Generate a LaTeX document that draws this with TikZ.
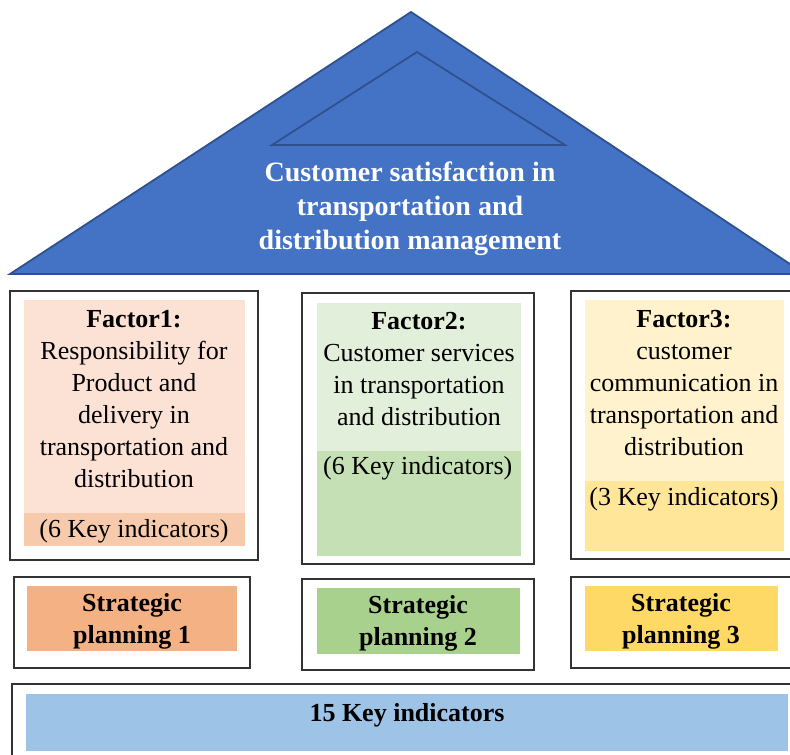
\documentclass[tikz,border=0pt]{standalone}
\usepackage{fontspec}
\setmainfont{Liberation Serif}
\definecolor{triFill}{HTML}{4472C4}
\definecolor{triLine}{HTML}{2F528F}
\definecolor{fOneL}{HTML}{FBE2D5}
\definecolor{fOneD}{HTML}{F7CAAC}
\definecolor{fTwoL}{HTML}{E2EFDA}
\definecolor{fTwoD}{HTML}{C5E0B4}
\definecolor{fThrL}{HTML}{FFF2CC}
\definecolor{fThrD}{HTML}{FFE699}
\definecolor{sOne}{HTML}{F4B183}
\definecolor{sTwo}{HTML}{A9D18E}
\definecolor{sThr}{HTML}{FFD966}
\definecolor{keyBlue}{HTML}{9DC3E6}
\begin{document}
\begin{tikzpicture}[x=1pt,y=-1pt,
  outerbox/.style={draw=black!80, line width=1.2pt, fill=white, anchor=north west, inner sep=0pt, outer sep=0pt},
  fillbox/.style={draw=none, anchor=north west, inner sep=0pt, outer sep=0pt},
  bodytext/.style={font=\fontsize{26}{32}\selectfont, align=center, inner sep=0pt},
  strattext/.style={font=\bfseries\fontsize{26}{32}\selectfont, align=center, inner sep=0pt},
  tritext/.style={font=\bfseries\fontsize{28}{34}\selectfont, text=white, align=center, inner sep=0pt}]
\useasboundingbox (0,0) rectangle (790,755);
\clip (0,0) rectangle (790,755);
% roof
\path[fill=triFill, draw=triLine, line width=1.8pt, line join=miter]
  (411,12) coordinate (apex) -- (805,274) coordinate (rb) -- (10,274) coordinate (lb) -- cycle;
\path[draw=triLine, line width=1.8pt] (417,52) coordinate (iapex) -- (565,145) -- (272,145) -- cycle;
\node[tritext] (title) at (410,209) {Customer satisfaction in\\transportation and\\distribution management};
% factor 1
\node[outerbox, minimum width=248pt, minimum height=269pt] (o1) at (10,291) {};
\node[fillbox, fill=fOneL, minimum width=221pt, minimum height=213pt] (l1) at (24,300) {};
\node[fillbox, fill=fOneD, minimum width=221pt, minimum height=33pt] (d1) at (24,513) {};
\node[bodytext] (t1) at (134,399) {\textbf{Factor1:}\\Responsibility for\\Product and\\delivery in\\transportation and\\distribution};
\node[bodytext] (k1) at (134,531) {(6 Key indicators)};
% factor 2
\node[outerbox, minimum width=232pt, minimum height=271pt] (o2) at (302,293) {};
\node[fillbox, fill=fTwoL, minimum width=204pt, minimum height=148pt] (l2) at (317,303) {};
\node[fillbox, fill=fTwoD, minimum width=204pt, minimum height=105pt] (d2) at (317,451) {};
\node[bodytext] (t2) at (419,369) {\textbf{Factor2:}\\Customer services\\in transportation\\and distribution};
\node[bodytext, anchor=west] (k2) at (323,468) {(6 Key indicators)};
% factor 3
\node[outerbox, minimum width=240pt, minimum height=268pt] (o3) at (571,291) {};
\node[fillbox, fill=fThrL, minimum width=199pt, minimum height=181pt] (l3) at (585,300) {};
\node[fillbox, fill=fThrD, minimum width=199pt, minimum height=70pt] (d3) at (585,481) {};
\node[bodytext] (t3) at (684,383.5) {\textbf{Factor3:}\\customer\\communication in\\transportation and\\distribution};
\node[bodytext] (k3) at (684,499) {(3 Key indicators)};
% strategic planning
\node[outerbox, minimum width=236pt, minimum height=91pt] (so1) at (14,577) {};
\node[fillbox, fill=sOne, minimum width=210pt, minimum height=65pt] (sf1) at (27,586) {};
\node[strattext] (st1) at (132,621) {Strategic\\planning 1};
\node[outerbox, minimum width=232pt, minimum height=91pt] (so2) at (302,579) {};
\node[fillbox, fill=sTwo, minimum width=203pt, minimum height=66pt] (sf2) at (317,588) {};
\node[strattext] (st2) at (418,623) {Strategic\\planning 2};
\node[outerbox, minimum width=240pt, minimum height=91pt] (so3) at (571,577) {};
\node[fillbox, fill=sThr, minimum width=193pt, minimum height=65pt] (sf3) at (585,586) {};
\node[strattext] (st3) at (681,621) {Strategic\\planning 3};
% base
\node[outerbox, minimum width=800pt, minimum height=90pt] (bo) at (12,684) {};
\node[fillbox, fill=keyBlue, minimum width=762pt, minimum height=57pt] (bf) at (26,694) {};
\node[strattext] (bt) at (407,715) {15 Key indicators};
\end{tikzpicture}
\end{document}
